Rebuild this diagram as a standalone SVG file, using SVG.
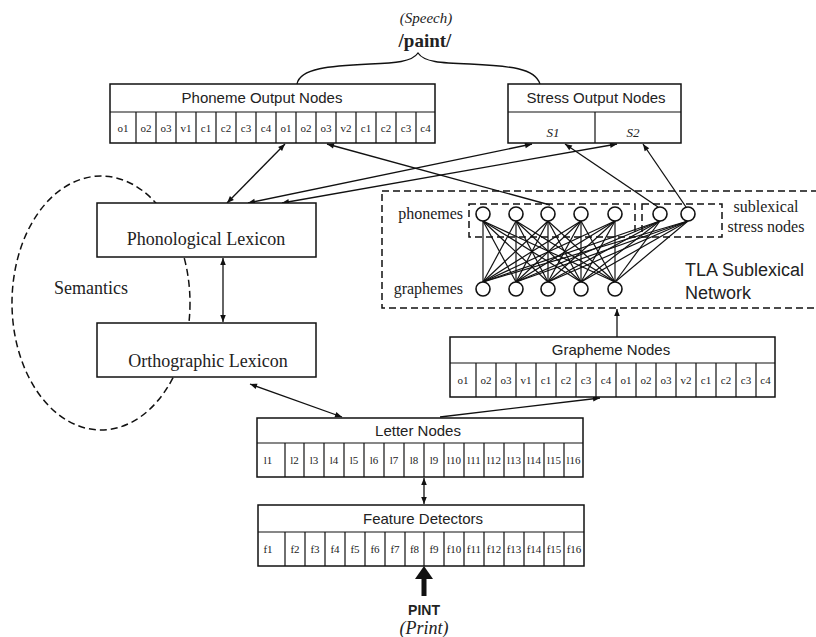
<svg xmlns="http://www.w3.org/2000/svg" width="816" height="637" viewBox="0 0 816 637">
<style>
.box{fill:#fff;stroke:#111;stroke-width:1.5}
.cell{stroke:#111;stroke-width:1.2}
.sans{font-family:"Liberation Sans",Arial,sans-serif;fill:#222}
.serif{font-family:"Liberation Serif","Times New Roman",serif;fill:#222}
.hdr{font-size:15px;text-anchor:middle}
.cl{font-size:11px;text-anchor:middle}
.lex{font-size:18px;text-anchor:middle}
.dash{fill:none;stroke:#111;stroke-width:1.5;stroke-dasharray:7 4}
.con{fill:none;stroke:#111;stroke-width:1.3}
.net{stroke:#111;stroke-width:1.2}
.nd{fill:#fff;stroke:#111;stroke-width:1.6}
</style>
<defs>
<marker id="ah" viewBox="0 0 10 10" refX="10" refY="5" markerWidth="8" markerHeight="7" orient="auto-start-reverse" markerUnits="userSpaceOnUse"><path d="M0,1 L10,5 L0,9 z" fill="#111"/></marker>
</defs>

<!-- Semantics (drawn first, partly hidden) -->
<g id="semantics">
<ellipse cx="101" cy="303" rx="89" ry="127" class="dash" stroke-width="1.3"/>
<text x="91" y="294" class="serif" font-size="18" text-anchor="middle">Semantics</text>
</g>

<!-- Speech output brace -->
<g id="speech">
<text x="426" y="23" class="serif" font-size="15" font-style="italic" text-anchor="middle">(Speech)</text>
<text x="425" y="47" class="serif" font-size="19" font-weight="bold" text-anchor="middle">/paint/</text>
<path d="M297,84 C300,68 330,66 370,64 C395,63 412,62 418,53 C424,62 440,63 470,64 C510,66 535,68 540,84" class="con" stroke-width="1.5"/>
</g>

<!-- TLA sublexical network -->
<g id="tla">
<rect x="382" y="191" width="460" height="117" class="dash"/>
<rect x="469" y="204" width="166" height="33" class="dash"/>
<rect x="642" y="204" width="80" height="33" class="dash"/>
<text x="463" y="219" class="serif" font-size="16" text-anchor="end">phonemes</text>
<text x="463" y="294" class="serif" font-size="16" text-anchor="end">graphemes</text>
<text x="766" y="212" class="serif" font-size="16" text-anchor="middle">sublexical</text>
<text x="766" y="232" class="serif" font-size="16" text-anchor="middle">stress nodes</text>
<text x="685" y="276" class="sans" font-size="18">TLA Sublexical</text>
<text x="685" y="299" class="sans" font-size="18">Network</text>
<g class="net">
<line x1="483" y1="282" x2="483" y2="221"/><line x1="483" y1="282" x2="516" y2="221"/><line x1="483" y1="282" x2="548" y2="221"/><line x1="483" y1="282" x2="581" y2="221"/><line x1="483" y1="282" x2="615" y2="221"/><line x1="483" y1="282" x2="660" y2="221"/><line x1="483" y1="282" x2="688" y2="221"/>
<line x1="516" y1="282" x2="483" y2="221"/><line x1="516" y1="282" x2="516" y2="221"/><line x1="516" y1="282" x2="548" y2="221"/><line x1="516" y1="282" x2="581" y2="221"/><line x1="516" y1="282" x2="615" y2="221"/><line x1="516" y1="282" x2="660" y2="221"/><line x1="516" y1="282" x2="688" y2="221"/>
<line x1="548" y1="282" x2="483" y2="221"/><line x1="548" y1="282" x2="516" y2="221"/><line x1="548" y1="282" x2="548" y2="221"/><line x1="548" y1="282" x2="581" y2="221"/><line x1="548" y1="282" x2="615" y2="221"/><line x1="548" y1="282" x2="660" y2="221"/><line x1="548" y1="282" x2="688" y2="221"/>
<line x1="581" y1="282" x2="483" y2="221"/><line x1="581" y1="282" x2="516" y2="221"/><line x1="581" y1="282" x2="548" y2="221"/><line x1="581" y1="282" x2="581" y2="221"/><line x1="581" y1="282" x2="615" y2="221"/><line x1="581" y1="282" x2="660" y2="221"/><line x1="581" y1="282" x2="688" y2="221"/>
<line x1="615" y1="282" x2="483" y2="221"/><line x1="615" y1="282" x2="516" y2="221"/><line x1="615" y1="282" x2="548" y2="221"/><line x1="615" y1="282" x2="581" y2="221"/><line x1="615" y1="282" x2="615" y2="221"/><line x1="615" y1="282" x2="660" y2="221"/><line x1="615" y1="282" x2="688" y2="221"/>
</g>
<g>
<circle cx="483" cy="214" r="7" class="nd"/><circle cx="516" cy="214" r="7" class="nd"/><circle cx="548" cy="214" r="7" class="nd"/><circle cx="581" cy="214" r="7" class="nd"/><circle cx="615" cy="214" r="7" class="nd"/>
<circle cx="660" cy="214" r="7" class="nd"/><circle cx="688" cy="214" r="7" class="nd"/>
<circle cx="483" cy="289" r="7" class="nd"/><circle cx="516" cy="289" r="7" class="nd"/><circle cx="548" cy="289" r="7" class="nd"/><circle cx="581" cy="289" r="7" class="nd"/><circle cx="615" cy="289" r="7" class="nd"/>
</g>
</g>

<!-- Connectors -->
<g id="connectors" class="con">
<line x1="285" y1="144" x2="227" y2="203" marker-start="url(#ah)" marker-end="url(#ah)"/>
<line x1="532" y1="144" x2="248" y2="203" marker-start="url(#ah)" marker-end="url(#ah)"/>
<line x1="617" y1="144" x2="282" y2="203" marker-start="url(#ah)" marker-end="url(#ah)"/>
<line x1="550" y1="205" x2="327" y2="144" marker-end="url(#ah)"/>
<line x1="658" y1="207" x2="565" y2="144" marker-end="url(#ah)"/>
<line x1="686" y1="207" x2="643" y2="144" marker-end="url(#ah)"/>
<line x1="223" y1="258" x2="223" y2="322" marker-start="url(#ah)" marker-end="url(#ah)"/>
<line x1="250" y1="384" x2="342" y2="417" marker-start="url(#ah)" marker-end="url(#ah)"/>
<line x1="440" y1="417" x2="600" y2="398" marker-end="url(#ah)"/>
<line x1="617" y1="337" x2="617" y2="309" marker-end="url(#ah)"/>
<line x1="424" y1="478" x2="424" y2="504" marker-start="url(#ah)" marker-end="url(#ah)"/>
</g>

<!-- Phoneme Output Nodes -->
<g id="phoneme-output">
<rect x="110" y="84" width="325" height="59" class="box"/>
<line x1="110" y1="112" x2="435" y2="112" class="cell"/>
<path class="cell" d="M136,112V143M156,112V143M176,112V143M196,112V143M216,112V143M236,112V143M256,112V143M276,112V143M296,112V143M316,112V143M336,112V143M356,112V143M376,112V143M396,112V143M416,112V143"/>
<text x="262" y="103" class="sans hdr">Phoneme Output Nodes</text>
<g class="serif cl">
<text x="123" y="132">o1</text><text x="146" y="132">o2</text><text x="166" y="132">o3</text><text x="186" y="132">v1</text><text x="206" y="132">c1</text><text x="226" y="132">c2</text><text x="246" y="132">c3</text><text x="266" y="132">c4</text><text x="286" y="132">o1</text><text x="306" y="132">o2</text><text x="326" y="132">o3</text><text x="346" y="132">v2</text><text x="366" y="132">c1</text><text x="386" y="132">c2</text><text x="406" y="132">c3</text><text x="425.5" y="132">c4</text>
</g>
</g>

<!-- Stress Output Nodes -->
<g id="stress-output">
<rect x="508" y="84" width="173" height="59" class="box"/>
<line x1="508" y1="112" x2="681" y2="112" class="cell"/>
<line x1="595" y1="112" x2="595" y2="143" class="cell"/>
<text x="596" y="103" class="sans hdr">Stress Output Nodes</text>
<text x="553" y="137" class="serif" font-size="13" font-style="italic" text-anchor="middle">S1</text>
<text x="633" y="137" class="serif" font-size="13" font-style="italic" text-anchor="middle">S2</text>
</g>

<!-- Phonological Lexicon -->
<g id="phonological-lexicon">
<rect x="97" y="203" width="219" height="54" class="box"/>
<text x="206" y="245" class="serif lex">Phonological Lexicon</text>
</g>

<!-- Orthographic Lexicon -->
<g id="orthographic-lexicon">
<rect x="97" y="323" width="219" height="54" class="box"/>
<text x="208" y="367" class="serif lex">Orthographic Lexicon</text>
</g>

<!-- Grapheme Nodes -->
<g id="grapheme-nodes">
<rect x="450" y="337" width="325" height="60" class="box"/>
<line x1="450" y1="363" x2="775" y2="363" class="cell"/>
<path class="cell" d="M476,363V397M496,363V397M516,363V397M536,363V397M556,363V397M576,363V397M596,363V397M616,363V397M636,363V397M656,363V397M676,363V397M696,363V397M716,363V397M736,363V397M756,363V397"/>
<text x="611" y="355" class="sans hdr">Grapheme Nodes</text>
<g class="serif cl">
<text x="463" y="384">o1</text><text x="486" y="384">o2</text><text x="506" y="384">o3</text><text x="526" y="384">v1</text><text x="546" y="384">c1</text><text x="566" y="384">c2</text><text x="586" y="384">c3</text><text x="606" y="384">c4</text><text x="626" y="384">o1</text><text x="646" y="384">o2</text><text x="666" y="384">o3</text><text x="686" y="384">v2</text><text x="706" y="384">c1</text><text x="726" y="384">c2</text><text x="746" y="384">c3</text><text x="765.5" y="384">c4</text>
</g>
</g>

<!-- Letter Nodes -->
<g id="letter-nodes">
<rect x="257" y="418" width="326" height="59" class="box"/>
<line x1="257" y1="443" x2="583" y2="443" class="cell"/>
<path class="cell" d="M285,443V477M304,443V477M324,443V477M344,443V477M364,443V477M384,443V477M404,443V477M424,443V477M444,443V477M464,443V477M484,443V477M504,443V477M524,443V477M544,443V477M564,443V477"/>
<text x="418" y="436" class="sans hdr">Letter Nodes</text>
<g class="serif cl" font-size="10.5">
<text x="268" y="464">l1</text><text x="294.5" y="464">l2</text><text x="314" y="464">l3</text><text x="334" y="464">l4</text><text x="354" y="464">l5</text><text x="374" y="464">l6</text><text x="394" y="464">l7</text><text x="414" y="464">l8</text><text x="434" y="464">l9</text><text x="454" y="464">l10</text><text x="474" y="464">l11</text><text x="494" y="464">l12</text><text x="514" y="464">l13</text><text x="534" y="464">l14</text><text x="554" y="464">l15</text><text x="573.5" y="464">l16</text>
</g>
</g>

<!-- Feature Detectors -->
<g id="feature-detectors">
<rect x="258" y="505" width="326" height="61" class="box"/>
<line x1="258" y1="532" x2="584" y2="532" class="cell"/>
<path class="cell" d="M285,532V566M305,532V566M325,532V566M345,532V566M365,532V566M385,532V566M405,532V566M424,532V566M444,532V566M464,532V566M484,532V566M504,532V566M524,532V566M544,532V566M564,532V566"/>
<text x="423" y="524" class="sans hdr">Feature Detectors</text>
<g class="serif cl" font-size="10.5">
<text x="268" y="553">f1</text><text x="295" y="553">f2</text><text x="315" y="553">f3</text><text x="335" y="553">f4</text><text x="355" y="553">f5</text><text x="375" y="553">f6</text><text x="395" y="553">f7</text><text x="414.5" y="553">f8</text><text x="434" y="553">f9</text><text x="454" y="553">f10</text><text x="474" y="553">f11</text><text x="494" y="553">f12</text><text x="514" y="553">f13</text><text x="534" y="553">f14</text><text x="554" y="553">f15</text><text x="574" y="553">f16</text>
</g>
</g>

<!-- Print input -->
<g id="print-input">
<rect x="421.5" y="577" width="5" height="19" fill="#111"/>
<polygon points="415,579 424,566 433,579" fill="#111"/>
<text x="424" y="615" class="sans" font-size="14" font-weight="bold" text-anchor="middle">PINT</text>
<text x="424" y="634" class="serif" font-size="18" font-style="italic" text-anchor="middle">(Print)</text>
</g>
</svg>
